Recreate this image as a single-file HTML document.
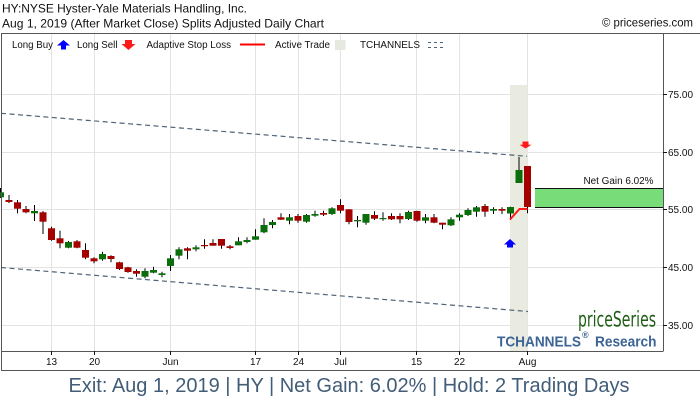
<!DOCTYPE html>
<html><head><meta charset="utf-8"><style>
html,body{margin:0;padding:0;background:#fff;}
svg{display:block;font-family:"Liberation Sans",Arial,sans-serif;}
</style></head><body>
<svg width="700" height="400" viewBox="0 0 700 400" xmlns="http://www.w3.org/2000/svg">
<rect width="700" height="400" fill="#fff"/>
<!-- header -->
<text x="2" y="12.5" font-size="12" fill="#111" textLength="245" lengthAdjust="spacingAndGlyphs">HY:NYSE Hyster-Yale Materials Handling, Inc.</text>
<text x="2" y="27.5" font-size="12" fill="#111" textLength="322" lengthAdjust="spacingAndGlyphs">Aug 1, 2019 (After Market Close)  Splits Adjusted Daily Chart</text>
<text x="602" y="26.5" font-size="12" fill="#111" textLength="91" lengthAdjust="spacingAndGlyphs">© priceseries.com</text>

<!-- grid -->
<g stroke="#e3e3e3" stroke-width="1">
<line x1="1" y1="94.5" x2="663" y2="94.5"/>
<line x1="1" y1="152.5" x2="663" y2="152.5"/>
<line x1="1" y1="209.5" x2="663" y2="209.5"/>
<line x1="1" y1="267.5" x2="663" y2="267.5"/>
<line x1="1" y1="325.5" x2="663" y2="325.5"/>
<line x1="51.5" y1="33" x2="51.5" y2="351"/>
<line x1="94.5" y1="33" x2="94.5" y2="351"/>
<line x1="170.5" y1="33" x2="170.5" y2="351"/>
<line x1="255.5" y1="33" x2="255.5" y2="351"/>
<line x1="298.5" y1="33" x2="298.5" y2="351"/>
<line x1="340.5" y1="33" x2="340.5" y2="351"/>
<line x1="416.5" y1="33" x2="416.5" y2="351"/>
<line x1="459.5" y1="33" x2="459.5" y2="351"/>
<line x1="527.5" y1="33" x2="527.5" y2="351"/>
</g>

<!-- active trade shading -->
<rect x="510" y="85" width="17.5" height="266" fill="#e9ebe1"/>

<!-- legend -->
<g font-size="10" fill="#111">
<text x="12" y="48" textLength="41" lengthAdjust="spacingAndGlyphs">Long Buy</text>
<text x="77" y="48" textLength="40.5" lengthAdjust="spacingAndGlyphs">Long Sell</text>
<text x="146.5" y="48" textLength="84.5" lengthAdjust="spacingAndGlyphs">Adaptive Stop Loss</text>
<text x="275" y="48" textLength="55" lengthAdjust="spacingAndGlyphs">Active Trade</text>
<text x="360" y="48" textLength="60" lengthAdjust="spacingAndGlyphs">TCHANNELS</text>
</g>
<polygon points="57,45.5 63.5,40 70,45.5 66,45.5 66,49.5 61,49.5 61,45.5" fill="#0000ff"/>
<polygon points="125,40 132,40 132,44 135.5,44 128.5,50 121.5,44 125,44" fill="#ff1a1a"/>
<line x1="240" y1="44.5" x2="265" y2="44.5" stroke="#ff0000" stroke-width="2"/>
<rect x="335" y="40" width="10.5" height="10" fill="#e6e9df"/>
<line x1="428" y1="42.5" x2="446" y2="42.5" stroke="#4a6075" stroke-width="1" stroke-dasharray="3,3"/>
<line x1="428" y1="47.5" x2="446" y2="47.5" stroke="#4a6075" stroke-width="1" stroke-dasharray="3,3"/>

<!-- channel lines -->
<line x1="1" y1="113.3" x2="527" y2="156.3" stroke="#4f6478" stroke-width="1.2" stroke-dasharray="5,3.5"/>
<line x1="1" y1="267.5" x2="528" y2="311.5" stroke="#4f6478" stroke-width="1.2" stroke-dasharray="5,3.5"/>

<!-- net gain box -->
<rect x="535" y="188.3" width="128.5" height="19" fill="#78dc78"/>
<line x1="535" y1="188.5" x2="663" y2="188.5" stroke="#111" stroke-width="1"/>
<line x1="535" y1="207.5" x2="663" y2="207.5" stroke="#111" stroke-width="1"/>
<text x="583.5" y="184" font-size="10" fill="#111" textLength="70" lengthAdjust="spacingAndGlyphs">Net Gain 6.02%</text>

<!-- candles -->
<g stroke="#000" stroke-width="1">
<line x1="0.5" y1="188" x2="0.5" y2="198"/>
<line x1="9" y1="195" x2="9" y2="203"/>
<line x1="17.5" y1="200" x2="17.5" y2="213.3"/>
<line x1="26" y1="206" x2="26" y2="213.3"/>
<line x1="34.5" y1="205" x2="34.5" y2="221"/>
<line x1="43" y1="211" x2="43" y2="234"/>
<line x1="51.5" y1="226.7" x2="51.5" y2="240.7"/>
<line x1="60" y1="230.7" x2="60" y2="248.3"/>
<line x1="68.5" y1="241" x2="68.5" y2="248.3"/>
<line x1="77" y1="240" x2="77" y2="248.3"/>
<line x1="85.5" y1="243.3" x2="85.5" y2="259.3"/>
<line x1="94" y1="257.3" x2="94" y2="263.3"/>
<line x1="102.5" y1="251.7" x2="102.5" y2="260.7"/>
<line x1="111" y1="255.3" x2="111" y2="262.3"/>
<line x1="119.5" y1="261.7" x2="119.5" y2="270"/>
<line x1="128" y1="266.7" x2="128" y2="272.7"/>
<line x1="136.5" y1="269.3" x2="136.5" y2="276.7"/>
<line x1="145" y1="268.3" x2="145" y2="278.3"/>
<line x1="153.5" y1="266.7" x2="153.5" y2="273.3"/>
<line x1="162" y1="271.7" x2="162" y2="277.3"/>
<line x1="170.5" y1="255" x2="170.5" y2="271"/>
<line x1="179" y1="247.3" x2="179" y2="259.3"/>
<line x1="187.5" y1="247.3" x2="187.5" y2="259.3"/>
<line x1="196" y1="245.3" x2="196" y2="251.3"/>
<line x1="204.5" y1="239.3" x2="204.5" y2="248.7"/>
<line x1="213" y1="239.3" x2="213" y2="245.7"/>
<line x1="221.5" y1="239" x2="221.5" y2="248.7"/>
<line x1="230" y1="245" x2="230" y2="249.3"/>
<line x1="238.5" y1="237.3" x2="238.5" y2="245.3"/>
<line x1="247" y1="237.3" x2="247" y2="243.3"/>
<line x1="255.5" y1="229.3" x2="255.5" y2="239.7"/>
<line x1="264" y1="218.3" x2="264" y2="233.3"/>
<line x1="272.5" y1="220" x2="272.5" y2="228.3"/>
<line x1="281" y1="213.3" x2="281" y2="220"/>
<line x1="289.5" y1="214" x2="289.5" y2="224.3"/>
<line x1="298" y1="214" x2="298" y2="222.7"/>
<line x1="306.5" y1="214" x2="306.5" y2="222.7"/>
<line x1="315" y1="210.7" x2="315" y2="216.7"/>
<line x1="323.5" y1="210.7" x2="323.5" y2="216"/>
<line x1="332" y1="207.3" x2="332" y2="215"/>
<line x1="340.5" y1="199.3" x2="340.5" y2="213.3"/>
<line x1="349" y1="209.3" x2="349" y2="224.3"/>
<line x1="357.5" y1="216" x2="357.5" y2="227.3"/>
<line x1="366" y1="214" x2="366" y2="224.7"/>
<line x1="374.5" y1="211.3" x2="374.5" y2="220"/>
<line x1="383" y1="212.3" x2="383" y2="220.7"/>
<line x1="391.5" y1="213.3" x2="391.5" y2="220"/>
<line x1="400" y1="213.3" x2="400" y2="223.3"/>
<line x1="408.5" y1="210.7" x2="408.5" y2="220"/>
<line x1="417" y1="210.7" x2="417" y2="221.7"/>
<line x1="425.5" y1="214" x2="425.5" y2="223.3"/>
<line x1="434" y1="214" x2="434" y2="223.3"/>
<line x1="442.5" y1="222.7" x2="442.5" y2="229.3"/>
<line x1="451" y1="217.3" x2="451" y2="226"/>
<line x1="459.5" y1="213.3" x2="459.5" y2="220.7"/>
<line x1="468" y1="208.3" x2="468" y2="216"/>
<line x1="476.5" y1="206" x2="476.5" y2="216.7"/>
<line x1="485" y1="204" x2="485" y2="216.7"/>
<line x1="493.5" y1="207.3" x2="493.5" y2="214"/>
<line x1="502" y1="207.3" x2="502" y2="214"/>
<line x1="510.5" y1="206.7" x2="510.5" y2="220"/>
<line x1="519" y1="157" x2="519" y2="183"/>
<line x1="527.5" y1="166" x2="527.5" y2="213.3"/>
</g>
<g>
<rect x="0" y="192.3" width="4" height="5" fill="#0a6e0a"/>
<rect x="5.5" y="200" width="7" height="2" fill="#a50000"/>
<rect x="14" y="202.3" width="7" height="6.4" fill="#a50000"/>
<rect x="22.5" y="209" width="7" height="3.3" fill="#a50000"/>
<rect x="31" y="211" width="7" height="2.3" fill="#0a6e0a"/>
<rect x="39.5" y="212.3" width="7" height="9.4" fill="#a50000"/>
<rect x="48" y="228.3" width="7" height="11.7" fill="#a50000"/>
<rect x="56.5" y="238.3" width="7" height="5" fill="#a50000"/>
<rect x="65" y="242" width="7" height="5.7" fill="#0a6e0a"/>
<rect x="73.5" y="241.3" width="7" height="6.4" fill="#a50000"/>
<rect x="82" y="250" width="7" height="7.7" fill="#a50000"/>
<rect x="90.5" y="258.3" width="7" height="3" fill="#a50000"/>
<rect x="99" y="254" width="7" height="5.3" fill="#0a6e0a"/>
<rect x="107.5" y="256" width="7" height="3" fill="#a50000"/>
<rect x="116" y="262.3" width="7" height="6.7" fill="#a50000"/>
<rect x="124.5" y="267.3" width="7" height="4.7" fill="#a50000"/>
<rect x="133" y="271" width="7" height="2.7" fill="#a50000"/>
<rect x="141.5" y="271" width="7" height="5.7" fill="#0a6e0a"/>
<rect x="150" y="270" width="7" height="2.7" fill="#0a6e0a"/>
<rect x="158.5" y="273.3" width="7" height="1.7" fill="#0a6e0a"/>
<rect x="167" y="258.3" width="7" height="7.7" fill="#0a6e0a"/>
<rect x="175.5" y="249.3" width="7" height="6.4" fill="#0a6e0a"/>
<rect x="184" y="248.3" width="7" height="2.4" fill="#a50000"/>
<rect x="192.5" y="247.3" width="7" height="2" fill="#0a6e0a"/>
<rect x="201" y="245" width="7" height="1.2" fill="#a50000"/>
<rect x="209.5" y="243" width="7" height="2.7" fill="#a50000"/>
<rect x="218" y="239" width="7" height="6.7" fill="#a50000"/>
<rect x="226.5" y="246.3" width="7" height="1.7" fill="#a50000"/>
<rect x="235" y="241.3" width="7" height="4" fill="#0a6e0a"/>
<rect x="243.5" y="240" width="7" height="2" fill="#0a6e0a"/>
<rect x="252" y="236.3" width="7" height="3.4" fill="#0a6e0a"/>
<rect x="260.5" y="225" width="7" height="7.3" fill="#0a6e0a"/>
<rect x="269" y="222" width="7" height="3" fill="#0a6e0a"/>
<rect x="277.5" y="217.3" width="7" height="2.4" fill="#a50000"/>
<rect x="286" y="217.3" width="7" height="3.4" fill="#0a6e0a"/>
<rect x="294.5" y="216" width="7" height="4.7" fill="#a50000"/>
<rect x="303" y="215" width="7" height="6.7" fill="#0a6e0a"/>
<rect x="311.5" y="214" width="7" height="1.7" fill="#0a6e0a"/>
<rect x="320" y="213" width="7" height="1.7" fill="#a50000"/>
<rect x="328.5" y="208.3" width="7" height="5.7" fill="#0a6e0a"/>
<rect x="337" y="205" width="7" height="5.7" fill="#a50000"/>
<rect x="345.5" y="209.3" width="7" height="12.7" fill="#a50000"/>
<rect x="354" y="220" width="7" height="1.3" fill="#0a6e0a"/>
<rect x="362.5" y="214" width="7" height="8.7" fill="#0a6e0a"/>
<rect x="371" y="215" width="7" height="3.7" fill="#a50000"/>
<rect x="379.5" y="218" width="7" height="1.2" fill="#0a6e0a"/>
<rect x="388" y="216" width="7" height="3.3" fill="#a50000"/>
<rect x="396.5" y="216" width="7" height="3.3" fill="#a50000"/>
<rect x="405" y="212" width="7" height="7" fill="#0a6e0a"/>
<rect x="413.5" y="211" width="7" height="9.7" fill="#a50000"/>
<rect x="422" y="217.3" width="7" height="3.4" fill="#0a6e0a"/>
<rect x="430.5" y="217.3" width="7" height="5.4" fill="#a50000"/>
<rect x="439" y="222.7" width="7" height="2" fill="#a50000"/>
<rect x="447.5" y="219.3" width="7" height="6" fill="#0a6e0a"/>
<rect x="456" y="214.7" width="7" height="2.6" fill="#0a6e0a"/>
<rect x="464.5" y="210" width="7" height="5" fill="#0a6e0a"/>
<rect x="473" y="207.3" width="7" height="4.4" fill="#0a6e0a"/>
<rect x="481.5" y="206" width="7" height="5.7" fill="#a50000"/>
<rect x="490" y="209" width="7" height="1.7" fill="#0a6e0a"/>
<rect x="498.5" y="209" width="7" height="1.7" fill="#a50000"/>
<rect x="507" y="207" width="7" height="6.5" fill="#0a6e0a"/>
<rect x="515.5" y="170" width="7" height="13" fill="#0a6e0a"/>
<rect x="524" y="166" width="7" height="41" fill="#a50000"/>
</g>

<!-- stop loss -->
<polyline points="510,219.5 519.5,209 527.5,209" fill="none" stroke="#ff1a1a" stroke-width="2"/>
<!-- signals -->
<polygon points="504,244.5 510,239 516,244.5 513,244.5 513,247.5 507,247.5 507,244.5" fill="#0000ff"/>
<polygon points="522.5,141.5 528.5,141.5 528.5,144.8 531.5,144.8 525.5,148.5 519.5,144.8 522.5,144.8" fill="#ff1a1a"/>

<!-- watermark -->
<text x="578" y="326.7" font-size="21" fill="#1e5e14" font-family="'Liberation Sans Narrow','DejaVu Sans Condensed','Liberation Sans',sans-serif" textLength="78" lengthAdjust="spacingAndGlyphs">priceSeries</text>
<text x="497" y="346.7" font-size="15" font-weight="bold" fill="#3c6494" textLength="84" lengthAdjust="spacingAndGlyphs">TCHANNELS</text>
<text x="582" y="338" font-size="9" font-weight="bold" fill="#3c6494">®</text>
<text x="595" y="346.7" font-size="15" font-weight="bold" fill="#3c6494" textLength="61.5" lengthAdjust="spacingAndGlyphs">Research</text>

<!-- axes / frame -->
<g stroke="#555" stroke-width="1" fill="none">
<line x1="1" y1="33.5" x2="700" y2="33.5"/>
<line x1="1.5" y1="33" x2="1.5" y2="371"/>
<line x1="663.5" y1="33" x2="663.5" y2="351"/>
<line x1="1" y1="351.5" x2="663.5" y2="351.5"/>
<line x1="1" y1="370.5" x2="700" y2="370.5"/>
</g>
<g stroke="#111" stroke-width="1">
<line x1="663" y1="94.5" x2="667" y2="94.5"/>
<line x1="663" y1="152.5" x2="667" y2="152.5"/>
<line x1="663" y1="209.5" x2="667" y2="209.5"/>
<line x1="663" y1="267.5" x2="667" y2="267.5"/>
<line x1="663" y1="325.5" x2="667" y2="325.5"/>
<line x1="51.5" y1="351" x2="51.5" y2="355"/>
<line x1="94.5" y1="351" x2="94.5" y2="355"/>
<line x1="170.5" y1="351" x2="170.5" y2="355"/>
<line x1="255.5" y1="351" x2="255.5" y2="355"/>
<line x1="298.5" y1="351" x2="298.5" y2="355"/>
<line x1="340.5" y1="351" x2="340.5" y2="355"/>
<line x1="416.5" y1="351" x2="416.5" y2="355"/>
<line x1="459.5" y1="351" x2="459.5" y2="355"/>
<line x1="527.5" y1="351" x2="527.5" y2="355"/>
</g>
<g font-size="10" fill="#111">
<text x="668" y="98">75.00</text>
<text x="668" y="156">65.00</text>
<text x="668" y="213">55.00</text>
<text x="668" y="271">45.00</text>
<text x="668" y="329">35.00</text>
</g>
<g font-size="10" fill="#111" text-anchor="middle">
<text x="51.5" y="365">13</text>
<text x="94.5" y="365">20</text>
<text x="170.5" y="365">Jun</text>
<text x="255.5" y="365">17</text>
<text x="298.5" y="365">24</text>
<text x="340.5" y="365">Jul</text>
<text x="416.5" y="365">15</text>
<text x="459.5" y="365">22</text>
<text x="527.5" y="365">Aug</text>
</g>

<!-- footer -->
<text x="68.5" y="392" font-size="20" fill="#425d78" textLength="561" lengthAdjust="spacingAndGlyphs">Exit: Aug 1, 2019 | HY | Net Gain: 6.02% | Hold: 2 Trading Days</text>
</svg>
</body></html>
